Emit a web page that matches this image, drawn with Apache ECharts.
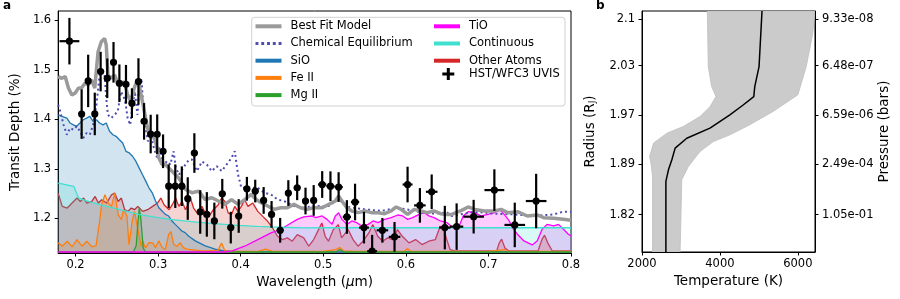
<!DOCTYPE html>
<html><head><meta charset="utf-8">
<script src="https://cdn.jsdelivr.net/npm/echarts@6/dist/echarts.min.js"></script>
<style>html,body{margin:0;padding:0;background:#fff}#c{width:900px;height:299px}</style>
</head><body><div id="c"></div>
<script>
const FONT = "'DejaVu Sans', sans-serif";

// ---------- Panel a: transmission spectrum ----------
const wlTicks = [0.2, 0.3, 0.4, 0.5, 0.6, 0.7, 0.8];
const depthTicks = [1.2, 1.3, 1.4, 1.5, 1.6];

const bestFitX = [0.179,0.1835,0.1875,0.1915,0.1955,0.1995,0.2034,0.2074,0.2114,0.2153,0.2193,0.2233,0.2273,0.2312,0.2352,0.2372,0.2392,0.2432,0.2472,0.2511,0.2551,0.2591,0.2631,0.267,0.271,0.275,0.277,0.281,0.2849,0.2889,0.2929,0.2969,0.3009,0.3048,0.3088,0.3128,0.3168,0.3207,0.3247,0.3287,0.3331,0.3411,0.349,0.357,0.365,0.3729,0.3809,0.3889,0.3968,0.4048,0.4128,0.4188,0.4247,0.4326,0.4406,0.4486,0.4565,0.4645,0.4725,0.4804,0.4884,0.4987,0.5066,0.5146,0.5186,0.5226,0.5286,0.5346,0.5425,0.5505,0.5584,0.5663,0.5743,0.5823,0.5883,0.5943,0.6022,0.6101,0.6181,0.626,0.634,0.642,0.6499,0.6556,0.6675,0.6755,0.6834,0.6953,0.7072,0.7152,0.7232,0.7352,0.7471,0.759,0.767,0.7789,0.7908,0.8];
const bestFitY = [1.4865,1.483,1.4865,1.463,1.4495,1.453,1.463,1.464,1.473,1.4696,1.4797,1.463,1.5368,1.557,1.5636,1.550,1.4897,1.483,1.4897,1.473,1.4696,1.4764,1.4495,1.4362,1.463,1.4797,1.4696,1.4362,1.4026,1.369,1.369,1.3557,1.3221,1.3087,1.3087,1.302,1.2954,1.2885,1.2819,1.2718,1.2583,1.2517,1.255,1.238,1.2417,1.235,1.2282,1.238,1.2282,1.238,1.2483,1.238,1.2316,1.225,1.2181,1.2215,1.2215,1.2282,1.2215,1.2181,1.2215,1.2215,1.2282,1.235,1.245,1.235,1.2215,1.215,1.2115,1.215,1.2115,1.2115,1.2095,1.215,1.223,1.2181,1.208,1.2181,1.215,1.2115,1.215,1.2095,1.208,1.208,1.2161,1.223,1.2181,1.215,1.215,1.2181,1.2115,1.2135,1.2048,1.2068,1.2014,1.2,1.198,1.196];

const chemEqX = [0.179,0.1815,0.1855,0.1895,0.1935,0.1974,0.2014,0.2054,0.2094,0.2133,0.2173,0.2213,0.2253,0.2292,0.232,0.2352,0.2372,0.2392,0.2432,0.2472,0.2511,0.2551,0.2571,0.2599,0.2631,0.2663,0.2691,0.2718,0.275,0.277,0.2798,0.2822,0.2849,0.2877,0.2909,0.2949,0.2989,0.301,0.3068,0.3108,0.3148,0.3188,0.3212,0.3252,0.3331,0.3371,0.3411,0.3471,0.353,0.359,0.365,0.371,0.377,0.3829,0.3889,0.3928,0.3968,0.4008,0.4128,0.4207,0.4287,0.4367,0.4446,0.4525,0.4645,0.4764,0.4884,0.5066,0.5186,0.5305,0.5505,0.5703,0.5903,0.6101,0.63,0.6499,0.6556,0.6834,0.7072,0.7311,0.755,0.7789,0.7908,0.8];
const chemEqY = [1.4294,1.416,1.389,1.369,1.3825,1.3791,1.386,1.3759,1.3625,1.3724,1.369,1.389,1.4294,1.4897,1.5032,1.4897,1.4428,1.4093,1.4026,1.4093,1.4161,1.4563,1.4597,1.4395,1.4026,1.389,1.4294,1.4563,1.4093,1.463,1.4831,1.4227,1.3825,1.3557,1.369,1.3422,1.3221,1.345,1.3087,1.3155,1.3087,1.3355,1.3046,1.288,1.3087,1.318,1.3187,1.2954,1.3147,1.3087,1.2954,1.3054,1.2954,1.3087,1.3221,1.3356,1.2885,1.2618,1.2618,1.2618,1.2517,1.2483,1.238,1.235,1.225,1.2215,1.225,1.225,1.2383,1.223,1.2181,1.215,1.2215,1.215,1.2095,1.2115,1.2048,1.2135,1.2095,1.208,1.2048,1.208,1.2135,1.2135];

const sioX = [0.179,0.1835,0.1895,0.1935,0.1974,0.2014,0.2054,0.2094,0.2133,0.2173,0.2213,0.2253,0.2292,0.2332,0.2372,0.2412,0.2452,0.2491,0.2531,0.2571,0.2611,0.2651,0.2691,0.273,0.277,0.281,0.285,0.2889,0.2929,0.2969,0.3009,0.3048,0.3088,0.3128,0.3168,0.3207,0.3247,0.3287,0.3327,0.3371,0.345,0.357,0.369,0.381,0.4,0.45,0.5,0.6,0.7,0.8];
const sioY = [1.4093,1.406,1.4026,1.3926,1.389,1.386,1.3926,1.3993,1.4026,1.406,1.396,1.3993,1.3926,1.389,1.3926,1.3759,1.369,1.3658,1.359,1.3523,1.3355,1.3322,1.3255,1.3155,1.302,1.2885,1.2752,1.2617,1.2517,1.235,1.2215,1.2148,1.2081,1.2047,1.1946,1.1879,1.1812,1.1745,1.1712,1.1638,1.1545,1.1444,1.1376,1.134,1.1325,1.132,1.132,1.132,1.132,1.132];

const feX = [0.179,0.1839,0.1899,0.1958,0.2018,0.2078,0.2137,0.2197,0.2249,0.2289,0.2316,0.2356,0.2396,0.2436,0.2475,0.2516,0.2555,0.2583,0.2623,0.2647,0.2687,0.2714,0.2755,0.2794,0.281,0.2846,0.2889,0.2934,0.2969,0.3009,0.3048,0.3088,0.3128,0.3156,0.3188,0.3227,0.3267,0.3307,0.3347,0.345,0.355,0.365,0.372,0.3768,0.381,0.39,0.42,0.43,0.44,0.5,0.515,0.52,0.525,0.54,0.598,0.602,0.606,0.7,0.72,0.725,0.8];
const feY = [1.1505,1.1437,1.1537,1.1425,1.1571,1.1437,1.1537,1.1425,1.145,1.1907,1.2276,1.2477,1.231,1.2241,1.251,1.2074,1.1974,1.2175,1.204,1.147,1.194,1.2141,1.1773,1.1437,1.1545,1.1404,1.151,1.1505,1.141,1.1545,1.141,1.137,1.168,1.1733,1.148,1.143,1.151,1.141,1.138,1.136,1.134,1.135,1.134,1.15,1.134,1.133,1.133,1.138,1.133,1.133,1.137,1.141,1.134,1.133,1.133,1.139,1.133,1.133,1.137,1.133,1.133];

const mgX = [0.179,0.27,0.2735,0.2755,0.2772,0.279,0.2805,0.282,0.2845,0.5,0.515,0.52,0.525,0.8];
const mgY = [1.132,1.132,1.145,1.19,1.222,1.2,1.17,1.14,1.132,1.132,1.132,1.137,1.132,1.132];

const tioX = [0.179,0.38,0.3889,0.4048,0.4207,0.4367,0.4486,0.4605,0.4685,0.4764,0.4863,0.4907,0.4987,0.5046,0.5107,0.5146,0.5186,0.5226,0.5286,0.5345,0.5405,0.5465,0.5544,0.5604,0.5664,0.5743,0.5823,0.5902,0.5962,0.6022,0.6081,0.6161,0.6221,0.628,0.634,0.6419,0.6499,0.6595,0.6655,0.6695,0.6755,0.6834,0.6914,0.6993,0.7073,0.7132,0.7192,0.7252,0.7291,0.7351,0.743,0.753,0.759,0.765,0.771,0.779,0.7849,0.7909,0.7968,0.8];
const tioY = [1.132,1.132,1.1336,1.1437,1.1571,1.1706,1.178,1.19,1.198,1.203,1.2048,1.2014,1.2048,1.198,1.1879,1.2048,1.2115,1.198,1.1879,1.1947,1.1913,1.1846,1.1879,1.1947,1.1913,1.198,1.2014,1.2068,1.2048,1.198,1.2014,1.208,1.2115,1.2048,1.2014,1.1947,1.1913,1.1779,1.1879,1.2048,1.2135,1.2115,1.2048,1.208,1.2115,1.2181,1.208,1.1947,1.1813,1.1678,1.1544,1.1464,1.1544,1.1779,1.1879,1.1846,1.1879,1.1779,1.1678,1.1645];

const contX = [0.179,0.1978,0.2038,0.22,0.2376,0.26,0.2774,0.3,0.3173,0.34,0.357,0.38,0.3968,0.42,0.4367,0.46,0.4764,0.5,0.8];
const contY = [1.2712,1.2644,1.241,1.232,1.2241,1.215,1.2074,1.2015,1.1974,1.1935,1.1907,1.188,1.1859,1.1838,1.1827,1.1815,1.1807,1.181,1.181];

const atomsX = [0.179,0.1839,0.1899,0.1958,0.2018,0.2058,0.2098,0.2137,0.2197,0.2237,0.2277,0.2316,0.2376,0.2436,0.2475,0.2516,0.2555,0.2595,0.2635,0.2675,0.2714,0.2754,0.2814,0.2873,0.2933,0.2993,0.3033,0.3072,0.3133,0.3172,0.3212,0.3252,0.3292,0.3331,0.3371,0.339,0.343,0.3471,0.353,0.357,0.363,0.3669,0.3729,0.3769,0.3809,0.3848,0.3888,0.3928,0.3968,0.4008,0.4048,0.4088,0.4147,0.4207,0.4267,0.4327,0.4386,0.4446,0.4506,0.4566,0.4625,0.4685,0.4764,0.4824,0.4884,0.4943,0.4983,0.5023,0.5063,0.5122,0.5182,0.5222,0.5301,0.5361,0.5421,0.5481,0.5552,0.56,0.566,0.5719,0.5779,0.5839,0.5899,0.5958,0.6038,0.6118,0.6197,0.6277,0.6357,0.6416,0.6456,0.6496,0.6536,0.66,0.71,0.713,0.716,0.72,0.725,0.76,0.765,0.768,0.772,0.777,0.8];
const atomsY = [1.251,1.2241,1.2208,1.2309,1.241,1.2342,1.241,1.2309,1.2342,1.2443,1.2309,1.2376,1.2309,1.2477,1.251,1.2342,1.241,1.2175,1.2141,1.2208,1.2175,1.2242,1.2141,1.2175,1.2242,1.231,1.241,1.2276,1.2175,1.2276,1.241,1.2242,1.2342,1.2175,1.2309,1.241,1.2208,1.211,1.2242,1.211,1.2074,1.2175,1.2276,1.241,1.2342,1.211,1.2074,1.2242,1.2141,1.2242,1.2376,1.2242,1.2309,1.2141,1.204,1.194,1.1807,1.1638,1.1571,1.1605,1.1538,1.1672,1.1605,1.1437,1.1571,1.1773,1.1907,1.1638,1.1538,1.1773,1.1873,1.1605,1.1773,1.1571,1.1437,1.1538,1.1706,1.1873,1.1638,1.1538,1.1605,1.1571,1.1773,1.1638,1.1504,1.1571,1.147,1.1538,1.1571,1.1839,1.1806,1.1571,1.137,1.134,1.134,1.15,1.158,1.14,1.134,1.134,1.158,1.166,1.15,1.135,1.134];

// HST/WFC3 UVIS measurements
const hstX = [0.1926,0.2074,0.2153,0.2233,0.2304,0.2384,0.246,0.2531,0.2611,0.2683,0.2762,0.283,0.291,0.2989,0.306,0.3128,0.3208,0.3287,0.3359,0.3439,0.351,0.359,0.3681,0.3777,0.388,0.3976,0.4075,0.4176,0.4278,0.4374,0.4478,0.4577,0.4684,0.4785,0.4884,0.4987,0.5087,0.5186,0.5286,0.5385,0.5493,0.5592,0.5716,0.5863,0.6021,0.617,0.6313,0.6472,0.6615,0.6821,0.7072,0.7319,0.7578];
const hstY = [1.558,1.4107,1.4777,1.411,1.4966,1.483,1.5153,1.473,1.471,1.4328,1.4765,1.396,1.3704,1.370,1.3356,1.265,1.265,1.265,1.240,1.332,1.2129,1.208,1.1948,1.2497,1.1813,1.2048,1.2598,1.2551,1.2362,1.208,1.1759,1.2511,1.2618,1.235,1.2362,1.2684,1.265,1.2632,1.2028,1.233,1.1813,1.1336,1.1759,1.1626,1.2684,1.2262,1.2537,1.1813,1.1833,1.2034,1.2571,1.1867,1.235];
const hstYErr = [0.047,0.05,0.053,0.043,0.04,0.04,0.041,0.038,0.039,0.03,0.047,0.037,0.039,0.04,0.034,0.044,0.044,0.04,0.043,0.04,0.044,0.045,0.037,0.03,0.032,0.034,0.024,0.023,0.027,0.027,0.025,0.026,0.025,0.027,0.031,0.027,0.03,0.03,0.034,0.037,0.032,0.033,0.025,0.03,0.036,0.035,0.035,0.044,0.047,0.034,0.042,0.045,0.055];
const hstXErr = [0.012,0.003,0.003,0.003,0.003,0.003,0.003,0.003,0.003,0.003,0.003,0.003,0.003,0.003,0.003,0.003,0.003,0.003,0.003,0.004,0.004,0.004,0.004,0.004,0.004,0.004,0.004,0.004,0.004,0.004,0.004,0.004,0.004,0.004,0.004,0.005,0.005,0.005,0.005,0.005,0.006,0.006,0.007,0.007,0.006,0.007,0.007,0.007,0.008,0.0125,0.012,0.0125,0.0125];

// ---------- Panel b: temperature profile ----------
const levelTicks = [15.5, 36.6, 56.9, 77.3, 96.6];
const radiusLabels = ['1.82', '1.89', '1.97', '2.03', '2.1'];
const pressureLabels = ['1.05e-01', '2.49e-04', '6.59e-06', '6.48e-07', '9.33e-08'];
const tempTicks = [2000, 4000, 6000];

const profileLevel = [100,76.9,68.6,64.5,61.0,56.9,51.4,47.2,43.1,38.3,34.1,29.3,0];
const profileT = [5080,5004,4894,4869,4596,4255,3745,3149,2851,2766,2679,2613,2613];
const bandLowLevel = [100,76.9,68.6,64.5,60.3,56.2,52.1,49.3,45.2,39.6,36.9,31.3,0];
const bandLowT = [3676,3701,3788,3898,3745,3489,3063,2639,2297,2195,2230,2271,2271];
const bandHighLevel = [100,90.8,76.9,65.2,58.3,52.8,48.6,45.8,41.7,35.5,30.0,0];
const bandHighT = [6440,6384,6214,6000,5362,4766,4255,3829,3489,3190,3021,2978];

// ---------- build ----------
const A_XMIN = 0.179, A_XMAX = 0.8, A_YMIN = 1.130, A_YMAX = 1.619;
const zip = (xs, ys) => xs.map((x, i) => [x, ys[i]]);
const C = {
  best: '#9a9a9a', chem: '#4c4cb2', sio: '#1f77b4', fe: '#ff7f0e', mg: '#2ca02c',
  tio: '#ff00ff', cont: '#40e0d0', atoms: '#d62728'
};

function lineS(name, xs, ys, color, z, width, extra) {
  return Object.assign({
    name, type: 'line', xAxisIndex: 0, yAxisIndex: 0, data: zip(xs, ys),
    showSymbol: false, symbol: 'none', color, z, silent: true,
    lineStyle: { color, width }, animation: false
  }, extra || {});
}
function fillS(name, xs, ys, color) {
  return {
    name: name + ' fill', type: 'line', xAxisIndex: 0, yAxisIndex: 0, data: zip(xs, ys),
    showSymbol: false, symbol: 'none', z: 3, silent: true, animation: false,
    lineStyle: { width: 0, opacity: 0 },
    areaStyle: { color, opacity: 0.2, origin: 'start' }
  };
}

const series = [
  lineS('Other Atoms', atomsX, atomsY, C.atoms, 2, 1.3),
  fillS('SiO', sioX, sioY, C.sio),
  fillS('Fe II', feX, feY, C.fe),
  fillS('Mg II', mgX, mgY, C.mg),
  fillS('TiO', tioX, tioY, C.tio),
  fillS('Continuous', contX, contY, C.cont),
  fillS('Other Atoms', atomsX, atomsY, C.atoms),
  lineS('SiO', sioX, sioY, C.sio, 4, 1.3),
  lineS('Fe II', feX, feY, C.fe, 4, 1.3),
  lineS('Mg II', mgX, mgY, C.mg, 4, 1.3),
  lineS('TiO', tioX, tioY, C.tio, 4, 1.3),
  lineS('Continuous', contX, contY, C.cont, 4, 1.3),
  lineS('Chemical Equilibrium', chemEqX, chemEqY, C.chem, 5, 2, { lineStyle: { color: C.chem, width: 2, type: [2, 3] } }),
  lineS('Best Fit Model', bestFitX, bestFitY, C.best, 6, 3.5),
  {
    name: 'HST/WFC3 UVIS', type: 'custom', xAxisIndex: 0, yAxisIndex: 0, z: 7, clip: true,
    color: '#000', animation: false, silent: true,
    data: hstX.map((x, i) => [x, hstY[i], hstXErr[i], hstYErr[i]]),
    renderItem: (params, api) => {
      const x = api.value(0), y = api.value(1), xe = api.value(2), ye = api.value(3);
      const c = api.coord([x, y]);
      const t = api.coord([x, Math.min(y + ye, A_YMAX)]);
      const b = api.coord([x, Math.max(y - ye, A_YMIN)]);
      const l = api.coord([x - xe, y]);
      const r = api.coord([x + xe, y]);
      const s = { stroke: '#000', lineWidth: 2.2 };
      return { type: 'group', children: [
        { type: 'line', shape: { x1: t[0], y1: t[1], x2: b[0], y2: b[1] }, style: s },
        { type: 'line', shape: { x1: l[0], y1: l[1], x2: r[0], y2: r[1] }, style: s },
        { type: 'circle', shape: { cx: c[0], cy: c[1], r: 3.6 }, style: { fill: '#000' } }
      ]};
    }
  },
  // panel b
  {
    name: 'band', type: 'custom', xAxisIndex: 1, yAxisIndex: 1, z: 2, clip: true, silent: true, animation: false,
    data: [[4000, 50]],
    renderItem: (params, api) => {
      const pts = [];
      bandLowT.forEach((t, i) => pts.push(api.coord([t, bandLowLevel[i]])));
      for (let i = bandHighT.length - 1; i >= 0; i--) pts.push(api.coord([bandHighT[i], bandHighLevel[i]]));
      return { type: 'polygon', shape: { points: pts }, style: { fill: '#cbcbcb', stroke: '#bebebe', lineWidth: 0.8 } };
    }
  },
  {
    name: 'profile', type: 'line', xAxisIndex: 1, yAxisIndex: 1, z: 4, silent: true, animation: false,
    showSymbol: false, symbol: 'none', data: zip(profileT, profileLevel),
    lineStyle: { color: '#000', width: 1.5 }
  }
];

const tickLbl = { color: '#000', fontFamily: FONT, fontSize: 11.5 };
const axLine = { show: true, lineStyle: { color: '#000', width: 1 } };
const axTick = (vals) => ({ show: true, length: 3.5, customValues: vals, lineStyle: { color: '#000', width: 1 } });
const nameStyle = { color: '#000', fontFamily: FONT, fontSize: 13.5 };

const legendBase = {
  orient: 'vertical', top: 17.7, padding: 0, itemGap: 0, itemWidth: 26, itemHeight: 4,
  selectedMode: false, z: 10,
  textStyle: { color: '#000', fontFamily: FONT, fontSize: 11.5, lineHeight: 17.2, padding: [0, 0, 0, 4] }
};

const option = {
  animation: false,
  backgroundColor: '#fff',
  grid: [
    { left: 51, top: 11, right: 329, bottom: 46, show: true, borderColor: '#000', borderWidth: 1, backgroundColor: 'transparent' },
    { left: 642, top: 11, right: 85, bottom: 47, show: true, borderColor: '#000', borderWidth: 1, backgroundColor: 'transparent' }
  ],
  xAxis: [
    {
      type: 'value', gridIndex: 0, min: A_XMIN, max: A_XMAX,
      axisLine: axLine, axisTick: axTick(wlTicks), splitLine: { show: false },
      axisLabel: Object.assign({ customValues: wlTicks, margin: 6, formatter: v => v.toFixed(1) }, tickLbl),
      name: 'Wavelength ({it|μ}m)', nameLocation: 'middle', nameGap: 20,
      nameTextStyle: Object.assign({ rich: { it: { fontFamily: FONT, fontSize: 13.5, fontStyle: 'italic', color: '#000' } } }, nameStyle)
    },
    {
      type: 'value', gridIndex: 1, min: 2000, max: 6440,
      axisLine: axLine, axisTick: axTick(tempTicks), splitLine: { show: false },
      axisLabel: Object.assign({ customValues: tempTicks, margin: 6, formatter: v => String(v) }, tickLbl),
      name: 'Temperature (K)', nameLocation: 'middle', nameGap: 20, nameTextStyle: nameStyle
    }
  ],
  yAxis: [
    {
      type: 'value', gridIndex: 0, min: A_YMIN, max: A_YMAX,
      axisLine: axLine, axisTick: axTick(depthTicks), splitLine: { show: false },
      axisLabel: Object.assign({ customValues: depthTicks, margin: 7, formatter: v => v.toFixed(1) }, tickLbl),
      name: 'Transit Depth (%)', nameLocation: 'middle', nameRotate: 90, nameGap: 25, nameTextStyle: nameStyle
    },
    {
      type: 'value', gridIndex: 1, min: 0, max: 100, position: 'left',
      axisLine: axLine, axisTick: axTick(levelTicks), splitLine: { show: false },
      axisLabel: Object.assign({ customValues: levelTicks, margin: 7, formatter: v => radiusLabels[levelTicks.indexOf(v)] }, tickLbl),
      name: 'Radius (R{sub|J})', nameLocation: 'middle', nameRotate: 90, nameGap: 45,
      nameTextStyle: Object.assign({ rich: { sub: { fontFamily: FONT, fontSize: 9, color: '#000', padding: [5, 0, 0, 0] } } }, nameStyle)
    },
    {
      type: 'value', gridIndex: 1, min: 0, max: 100, position: 'right',
      axisLine: axLine, axisTick: axTick(levelTicks), splitLine: { show: false },
      axisLabel: Object.assign({ customValues: levelTicks, margin: 7, formatter: v => pressureLabels[levelTicks.indexOf(v)] }, tickLbl),
      name: 'Pressure (bars)', nameLocation: 'middle', nameRotate: 90, nameGap: 60, nameTextStyle: nameStyle
    }
  ],
  legend: [
    Object.assign({}, legendBase, { left: 255.5, data: [
      { name: 'Best Fit Model', icon: 'rect', itemStyle: { color: C.best } },
      { name: 'Chemical Equilibrium', icon: 'path://M0,0h3v3h-3zM6,0h3v3h-3zM12,0h3v3h-3zM18,0h3v3h-3zM24,0h3v3h-3z', itemStyle: { color: C.chem } },
      { name: 'SiO', icon: 'rect', itemStyle: { color: C.sio } },
      { name: 'Fe II', icon: 'rect', itemStyle: { color: C.fe } },
      { name: 'Mg II', icon: 'rect', itemStyle: { color: C.mg } }
    ]}),
    Object.assign({}, legendBase, { left: 434, data: [
      { name: 'TiO', icon: 'rect', itemStyle: { color: C.tio } },
      { name: 'Continuous', icon: 'rect', itemStyle: { color: C.cont } },
      { name: 'Other Atoms', icon: 'rect', itemStyle: { color: C.atoms } }
    ]}),
    Object.assign({}, legendBase, {
      left: 442.3, top: 17.7 + 3 * 17.2 - 4, itemWidth: 12, itemHeight: 12,
      textStyle: Object.assign({}, legendBase.textStyle, { padding: [0, 0, 0, 9.7] }),
      data: [{ name: 'HST/WFC3 UVIS', icon: 'path://M4.5,0h3v12h-3zM0,4.5h12v3h-12z', itemStyle: { color: '#000' } }]
    })
  ],
  graphic: [
    { type: 'rect', z: 5, shape: { x: 251.7, y: 17.3, width: 313.3, height: 88.7, r: 3 },
      style: { fill: 'rgba(255,255,255,0.8)', stroke: '#d0d0d0', lineWidth: 1 } },
    { type: 'text', left: 3, top: 0, z: 10, style: { text: 'a', font: "bold 12px 'DejaVu Sans'", fill: '#000' } },
    { type: 'text', left: 596, top: 0, z: 10, style: { text: 'b', font: "bold 12px 'DejaVu Sans'", fill: '#000' } }
  ],
  series
};

const chart = echarts.init(document.getElementById('c'), null, { renderer: 'canvas', devicePixelRatio: 1 });
chart.setOption(option);
</script></body></html>
